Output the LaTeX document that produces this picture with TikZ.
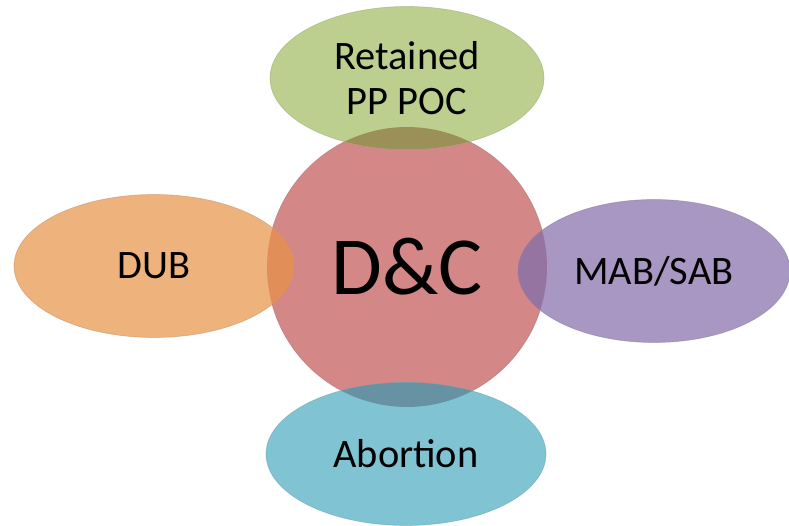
\documentclass[tikz,border=0pt]{standalone}
\usepackage{fontspec}
\setmainfont{Carlito}
\usetikzlibrary{shapes.geometric}
\definecolor{dcred}{RGB}{212,135,135}
\definecolor{pocgreen}{RGB}{188,207,142}
\definecolor{dubor}{RGB}{238,178,125}
\definecolor{sabpurp}{RGB}{168,150,195}
\definecolor{abblue}{RGB}{128,196,212}
% overlap shades
\definecolor{pocmix}{RGB}{155,145,88}
\definecolor{dubmix}{RGB}{225,142,88}
\definecolor{sabmix}{RGB}{150,116,162}
\definecolor{abmix}{RGB}{102,146,164}

\begin{document}
\begin{tikzpicture}[x=0.02cm, y=-0.02cm,
mainnode/.style={circle, draw=dcred!80!black, draw opacity=0.5, fill=dcred, thin, minimum size=5.6cm, inner sep=0pt, font=\fontsize{47}{50}\selectfont},
leafnode/.style={ellipse, draw opacity=0.5, thin, minimum width=5.6cm, minimum height=2.86cm, inner sep=0pt, font=\fontsize{23}{25.5}\selectfont, align=center}
]
    \useasboundingbox (0,0) rectangle (789,526);
    \node [mainnode] (dc) at (407,267) {D\&C};

    \node [leafnode, fill=pocgreen, draw=pocgreen!80!black, minimum width=5.48cm] (poc) at (407,78) {Retained\\PP POC};
    \node [leafnode, fill=dubor, draw=dubor!80!black] (dub) at (154,266) {DUB};
    \node [leafnode, fill=sabpurp, draw=sabpurp!80!black, minimum width=5.44cm] (sab) at (654,271) {MAB/SAB};
    \node [leafnode, fill=abblue, draw=abblue!80!black] (abort) at (406,454) {Abortion};

    % darker parts where the ellipses lie on the circle
    \begin{scope}
      \clip (dc.center) circle (2.8cm);
      \fill [pocmix] (poc.center) ellipse (2.74cm and 1.43cm);
      \fill [dubmix] (dub.center) ellipse (2.8cm and 1.43cm);
      \fill [sabmix] (sab.center) ellipse (2.72cm and 1.43cm);
      \fill [abmix] (abort.center) ellipse (2.8cm and 1.43cm);
    \end{scope}
\end{tikzpicture}
\end{document}
